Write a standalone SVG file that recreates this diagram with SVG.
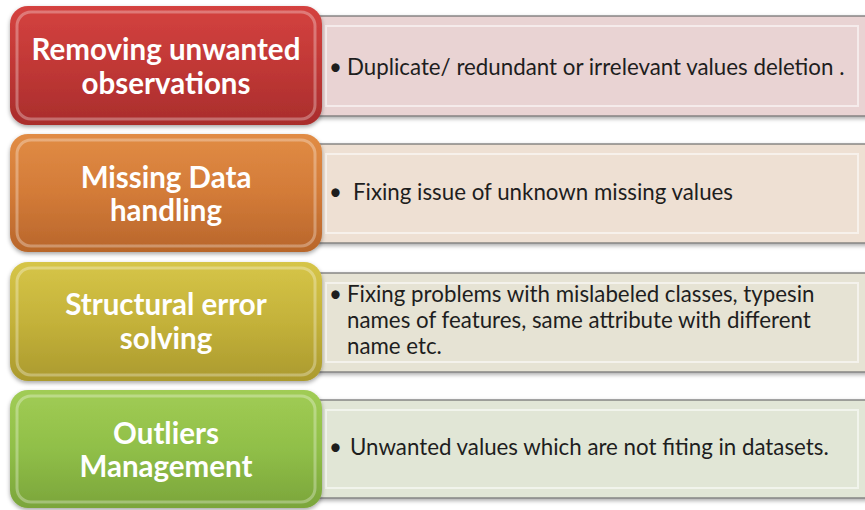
<svg xmlns="http://www.w3.org/2000/svg" width="865" height="510" viewBox="0 0 865 510">
<style>
.lbl{font-family:Lato,"Open Sans","Liberation Sans",sans-serif;font-weight:bold;font-size:29.5px;fill:#fff;text-anchor:middle}
.txt{font-family:Lato,"Open Sans","Liberation Sans",sans-serif;font-size:22.3px;fill:#1e1e1e}
.edge{fill:none;stroke:#fff;stroke-opacity:0.3;stroke-width:3}
.frame{stroke:#6e6e6e;stroke-width:1.2}
.inner{fill:none;stroke:#fff;stroke-opacity:0.55;stroke-width:2}
</style>
<defs>
<linearGradient id="gR" x1="0" y1="0" x2="0" y2="1"><stop offset="0" stop-color="#d4423f"/><stop offset="0.5" stop-color="#c13836"/><stop offset="1" stop-color="#a92d2c"/></linearGradient>
<linearGradient id="gO" x1="0" y1="0" x2="0" y2="1"><stop offset="0" stop-color="#e18c45"/><stop offset="0.5" stop-color="#d37b38"/><stop offset="1" stop-color="#b8662b"/></linearGradient>
<linearGradient id="gY" x1="0" y1="0" x2="0" y2="1"><stop offset="0" stop-color="#d6c548"/><stop offset="0.5" stop-color="#c4b23a"/><stop offset="1" stop-color="#ab9a2e"/></linearGradient>
<linearGradient id="gG" x1="0" y1="0" x2="0" y2="1"><stop offset="0" stop-color="#a1cc55"/><stop offset="0.5" stop-color="#90bf48"/><stop offset="1" stop-color="#7ba53b"/></linearGradient>
<filter id="sh" x="-5%" y="-5%" width="110%" height="115%"><feDropShadow dx="0" dy="2" stdDeviation="2" flood-color="#000" flood-opacity="0.35"/></filter>
</defs>

<g id="connectors"></g>

<g id="detail1">
<rect x="316" y="16" width="560" height="100" fill="#e9d3d3" class="frame" filter="url(#sh)"/>
<rect x="326" y="26" width="532" height="80" fill="#ead4d4" class="inner"/>
<text class="txt" x="329" y="75">•</text>
<text class="txt" x="347" y="75">Duplicate/ redundant or irrelevant values deletion .</text>
</g>
<g id="detail2">
<rect x="316" y="144" width="560" height="99" fill="#eee0d3" class="frame" filter="url(#sh)"/>
<rect x="326" y="154" width="532" height="79" fill="#efe1d4" class="inner"/>
<text class="txt" x="329" y="200">•</text>
<text class="txt" x="353" y="200">Fixing issue of unknown missing values</text>
</g>
<g id="detail3">
<rect x="316" y="273" width="560" height="99" fill="#e6e3d4" class="frame" filter="url(#sh)"/>
<rect x="326" y="283" width="532" height="79" fill="#e7e4d5" class="inner"/>
<text class="txt" x="329" y="302">•</text>
<text class="txt" x="347" y="302">Fixing problems with mislabeled classes, typesin</text>
<text class="txt" x="347" y="328">names of features, same attribute with different</text>
<text class="txt" x="347" y="354">name etc.</text>
</g>
<g id="detail4">
<rect x="316" y="400" width="560" height="98" fill="#e1e6d6" class="frame" filter="url(#sh)"/>
<rect x="326" y="410" width="532" height="78" fill="#e2e7d7" class="inner"/>
<text class="txt" x="329" y="455">•</text>
<text class="txt" x="350" y="455">Unwanted values which are not fiting in datasets.</text>
</g>

<g id="step1">
<rect x="10" y="6" width="312" height="119" rx="18" fill="url(#gR)" filter="url(#sh)"/>
<rect x="17" y="12" width="298" height="107" rx="14" class="edge"/>
<text class="lbl" x="166" y="60">Removing unwanted</text>
<text class="lbl" x="166" y="94">observations</text>
</g>
<g id="step2">
<rect x="10" y="134" width="312" height="118" rx="18" fill="url(#gO)" filter="url(#sh)"/>
<rect x="17" y="140" width="298" height="106" rx="14" class="edge"/>
<text class="lbl" x="166" y="188">Missing Data</text>
<text class="lbl" x="166" y="221">handling</text>
</g>
<g id="step3">
<rect x="10" y="262" width="312" height="119" rx="18" fill="url(#gY)" filter="url(#sh)"/>
<rect x="17" y="268" width="298" height="107" rx="14" class="edge"/>
<text class="lbl" x="166" y="315">Structural error</text>
<text class="lbl" x="166" y="349">solving</text>
</g>
<g id="step4">
<rect x="10" y="390" width="312" height="118" rx="18" fill="url(#gG)" filter="url(#sh)"/>
<rect x="17" y="396" width="298" height="106" rx="14" class="edge"/>
<text class="lbl" x="166" y="444">Outliers</text>
<text class="lbl" x="166" y="477">Management</text>
</g>
</svg>
